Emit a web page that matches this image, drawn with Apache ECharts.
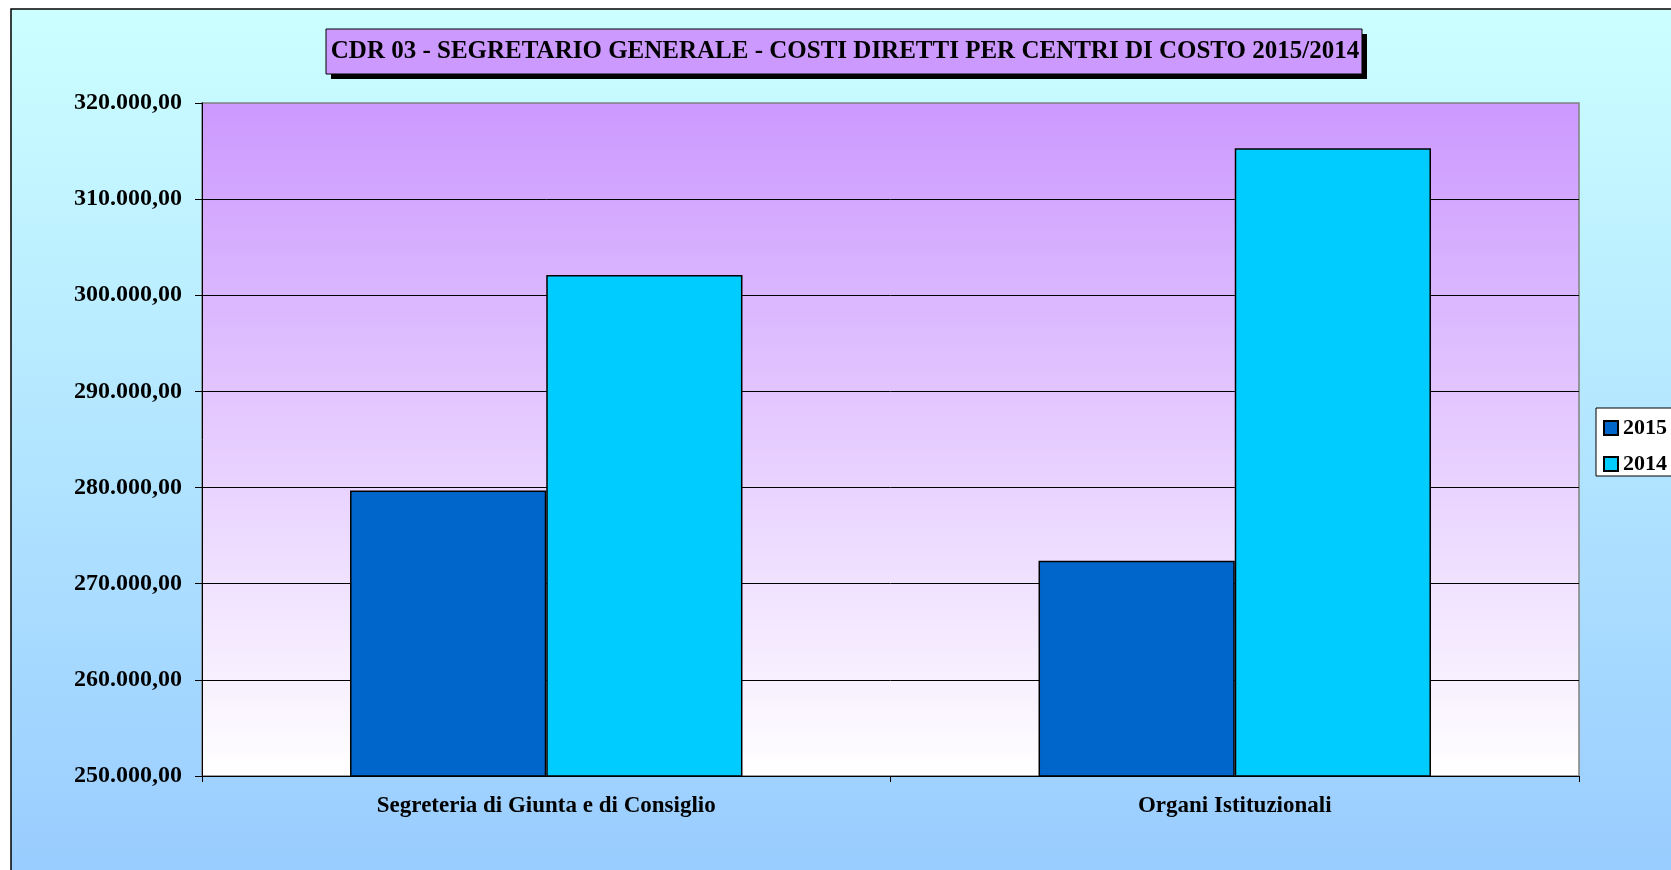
<!DOCTYPE html>
<html>
<head>
<meta charset="utf-8">
<script src="https://cdn.jsdelivr.net/npm/echarts@6/dist/echarts.min.js"></script>
<style>
    html, body { margin: 0; padding: 0; background: #ffffff; }
    #chart { width: 1671px; height: 870px; }
</style>
</head>
<body>
<div id="chart"></div>
<script>
    const titleText = 'CDR 03 - SEGRETARIO GENERALE - COSTI DIRETTI PER CENTRI DI COSTO 2015/2014';
    const categories = ['Segreteria di Giunta e di Consiglio', 'Organi Istituzionali'];
    const seriesNames = ['2015', '2014'];
    const costs2015 = [279700, 272400];
    const costs2014 = [302100, 315300];

    const serif = '"Liberation Serif", "Times New Roman", serif';

    // 320000 -> "320.000,00"
    function formatIt(value) {
        return (Math.round(value) + '').replace(/\B(?=(\d{3})+(?!\d))/g, '.') + ',00';
    }

    const chart = echarts.init(document.getElementById('chart'));

    const option = {
        animation: false,
        backgroundColor: '#ffffff',
        color: ['#0066cc', '#00ccff'],
        graphic: [
            {
                type: 'rect',
                z: -100,
                shape: { x: 11, y: 9, width: 1700, height: 870 },
                style: {
                    fill: new echarts.graphic.LinearGradient(0, 0, 0, 1, [
                        { offset: 0, color: '#ccffff' },
                        { offset: 1, color: '#99ccff' }
                    ]),
                    stroke: '#000000',
                    lineWidth: 1.5
                }
            },
            {
                type: 'rect',
                z: 100,
                shape: { x: 331, y: 34, width: 1036, height: 45 },
                style: { fill: '#000000' }
            },
            {
                type: 'rect',
                z: 101,
                shape: { x: 326, y: 29, width: 1036, height: 45 },
                style: { fill: '#cc99ff', stroke: '#000000', lineWidth: 1 }
            },
            {
                type: 'text',
                z: 102,
                x: 845,
                y: 52,
                style: {
                    text: titleText,
                    fill: '#000000',
                    font: 'bold 25px ' + serif,
                    align: 'center',
                    verticalAlign: 'middle'
                }
            }
        ],
        legend: {
            orient: 'vertical',
            left: 1596,
            top: 408,
            backgroundColor: '#ffffff',
            borderColor: '#000000',
            borderWidth: 1,
            padding: [9, 8, 1, 7],
            itemWidth: 14,
            itemHeight: 14,
            itemGap: 14,
            icon: 'rect',
            data: seriesNames,
            textStyle: {
                color: '#000000',
                fontFamily: serif,
                fontWeight: 'bold',
                fontSize: 22
            }
        },
        grid: {
            left: 202,
            top: 103,
            right: 92,
            bottom: 94,
            show: true,
            borderColor: '#808080',
            borderWidth: 1.5,
            backgroundColor: new echarts.graphic.LinearGradient(0, 0, 0, 1, [
                { offset: 0, color: '#cc99ff' },
                { offset: 1, color: '#ffffff' }
            ])
        },
        xAxis: {
            type: 'category',
            data: categories,
            axisLine: { lineStyle: { color: '#000000', width: 1 } },
            axisTick: { show: true, length: 6, lineStyle: { color: '#000000' } },
            axisLabel: {
                color: '#000000',
                fontFamily: serif,
                fontWeight: 'bold',
                fontSize: 23,
                margin: 19
            }
        },
        yAxis: {
            type: 'value',
            min: 250000,
            max: 320000,
            interval: 10000,
            axisLine: { show: true, lineStyle: { color: '#000000', width: 1 } },
            axisTick: { show: true, length: 7, lineStyle: { color: '#000000' } },
            splitLine: {
                show: true,
                showMinLine: false,
                showMaxLine: false,
                lineStyle: { color: '#000000', width: 1 }
            },
            axisLabel: {
                color: '#000000',
                fontFamily: serif,
                fontWeight: 'bold',
                fontSize: 24,
                margin: 20,
                formatter: formatIt
            }
        },
        series: [
            {
                name: seriesNames[0],
                type: 'bar',
                data: costs2015,
                barGap: '0%',
                barCategoryGap: '43%',
                itemStyle: { borderColor: '#000000', borderWidth: 1.5 }
            },
            {
                name: seriesNames[1],
                type: 'bar',
                data: costs2014,
                barGap: '0%',
                barCategoryGap: '43%',
                itemStyle: { borderColor: '#000000', borderWidth: 1.5 }
            }
        ]
    };

    chart.setOption(option);
</script>
</body>
</html>
